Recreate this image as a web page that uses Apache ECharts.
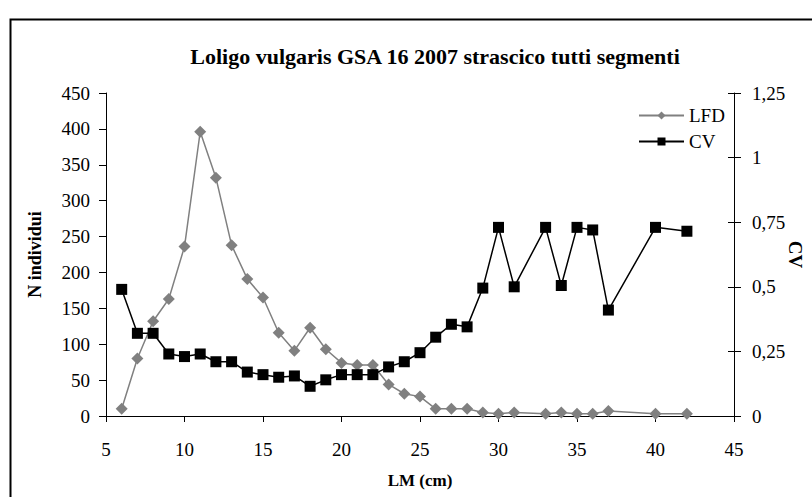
<!DOCTYPE html>
<html>
<head>
<meta charset="utf-8">
<script src="https://cdn.jsdelivr.net/npm/echarts@6/dist/echarts.min.js"></script>
<style>
  html, body { margin: 0; padding: 0; background: #fff; }
  #chart { width: 812px; height: 497px; }
</style>
</head>
<body>
<div id="chart"></div>
<script>
var lm  = [6, 7, 8, 9, 10, 11, 12, 13, 14, 15, 16, 17, 18, 19, 20, 21, 22, 23, 24, 25, 26, 27, 28, 29, 30, 31, 33, 34, 35, 36, 37, 40, 42];
var lfd = [10, 80, 132, 163, 236, 396, 332, 238, 191, 165, 116, 91, 123, 93, 74, 71, 71, 44, 31, 27, 10, 10, 10, 5, 3, 5, 3, 5, 3, 3, 7, 3, 3];
var cv  = [0.49, 0.32, 0.32, 0.24, 0.23, 0.24, 0.21, 0.21, 0.17, 0.16, 0.15, 0.155, 0.115, 0.14, 0.16, 0.16, 0.16, 0.19, 0.21, 0.245, 0.305, 0.355, 0.345, 0.495, 0.73, 0.5, 0.73, 0.505, 0.73, 0.72, 0.41, 0.73, 0.715];

var serif = '"Liberation Serif", "DejaVu Serif", serif';

function pairs(xs, ys) {
  return xs.map(function(x, i) { return [x, ys[i]]; });
}

var chart = echarts.init(document.getElementById('chart'), null, { renderer: 'svg' });
chart.setOption({
  animation: false,
  backgroundColor: '#fff',
  title: {
    text: 'Loligo vulgaris GSA 16 2007 strascico tutti segmenti',
    left: 430, top: 40, textAlign: 'center',
    textStyle: { fontFamily: serif, fontWeight: 'bold', fontSize: 22, color: '#000' }
  },
  graphic: [{
    type: 'rect', left: 8, top: 17, silent: true,
    shape: { width: 900, height: 600 },
    style: { fill: 'none', stroke: '#000', lineWidth: 2 }
  }],
  legend: {
    orient: 'vertical', left: 633, top: 101,
    itemWidth: 45, itemHeight: 10, itemGap: 7,
    textStyle: { fontFamily: serif, fontSize: 19, color: '#000', lineHeight: 18 },
    data: ['LFD', 'CV']
  },
  grid: { left: 106, right: 78, top: 93, bottom: 81, outerBoundsMode: 'none', containLabel: false },
  xAxis: {
    type: 'value', min: 5, max: 45, interval: 5,
    name: 'LM (cm)', nameLocation: 'middle', nameGap: 56,
    nameTextStyle: { fontFamily: serif, fontWeight: 'bold', fontSize: 17, color: '#000' },
    axisLine: { lineStyle: { color: '#000' } },
    axisTick: { lineStyle: { color: '#000' }, length: 6 },
    axisLabel: { fontFamily: serif, fontSize: 19, color: '#000', margin: 24 },
    splitLine: { show: false }
  },
  yAxis: [{
    type: 'value', min: 0, max: 450, interval: 50,
    name: 'N individui', nameLocation: 'middle', nameGap: 62, nameRotate: 90,
    nameTextStyle: { fontFamily: serif, fontWeight: 'bold', fontSize: 18, color: '#000' },
    axisLine: { show: true, lineStyle: { color: '#000' } },
    axisTick: { show: true, lineStyle: { color: '#000' }, length: 7 },
    axisLabel: { fontFamily: serif, fontSize: 19, color: '#000', margin: 16 },
    splitLine: { show: false }
  }, {
    type: 'value', min: 0, max: 1.25, interval: 0.25, position: 'right',
    name: 'CV', nameLocation: 'middle', nameGap: 52, nameRotate: -90, nameMoveOverlap: false,
    nameTextStyle: { fontFamily: serif, fontWeight: 'bold', fontSize: 19, color: '#000' },
    axisLine: { show: true, lineStyle: { color: '#000' } },
    axisTick: { show: true, lineStyle: { color: '#000' }, length: 7 },
    axisLabel: {
      fontFamily: serif, fontSize: 19, color: '#000', margin: 18,
      formatter: function(v) { return String(v).replace('.', ','); }
    },
    splitLine: { show: false }
  }, {
    // inner half of the crossing ticks on the right axis
    type: 'value', min: 0, max: 1.25, interval: 0.25, position: 'right',
    axisLine: { show: false },
    axisTick: { show: true, inside: true, lineStyle: { color: '#000' }, length: 6 },
    axisLabel: { show: false },
    splitLine: { show: false }
  }],
  series: [{
    name: 'LFD', type: 'line', yAxisIndex: 0,
    data: pairs(lm, lfd),
    symbol: 'diamond', symbolSize: 12,
    lineStyle: { color: '#808080', width: 1.5 },
    itemStyle: { color: '#808080' }
  }, {
    name: 'CV', type: 'line', yAxisIndex: 1,
    data: pairs(lm, cv),
    symbol: 'rect', symbolSize: 11,
    lineStyle: { color: '#000', width: 1.5 },
    itemStyle: { color: '#000' }
  }]
});
window.addEventListener('resize', function() { chart.resize(); });
</script>
</body>
</html>
